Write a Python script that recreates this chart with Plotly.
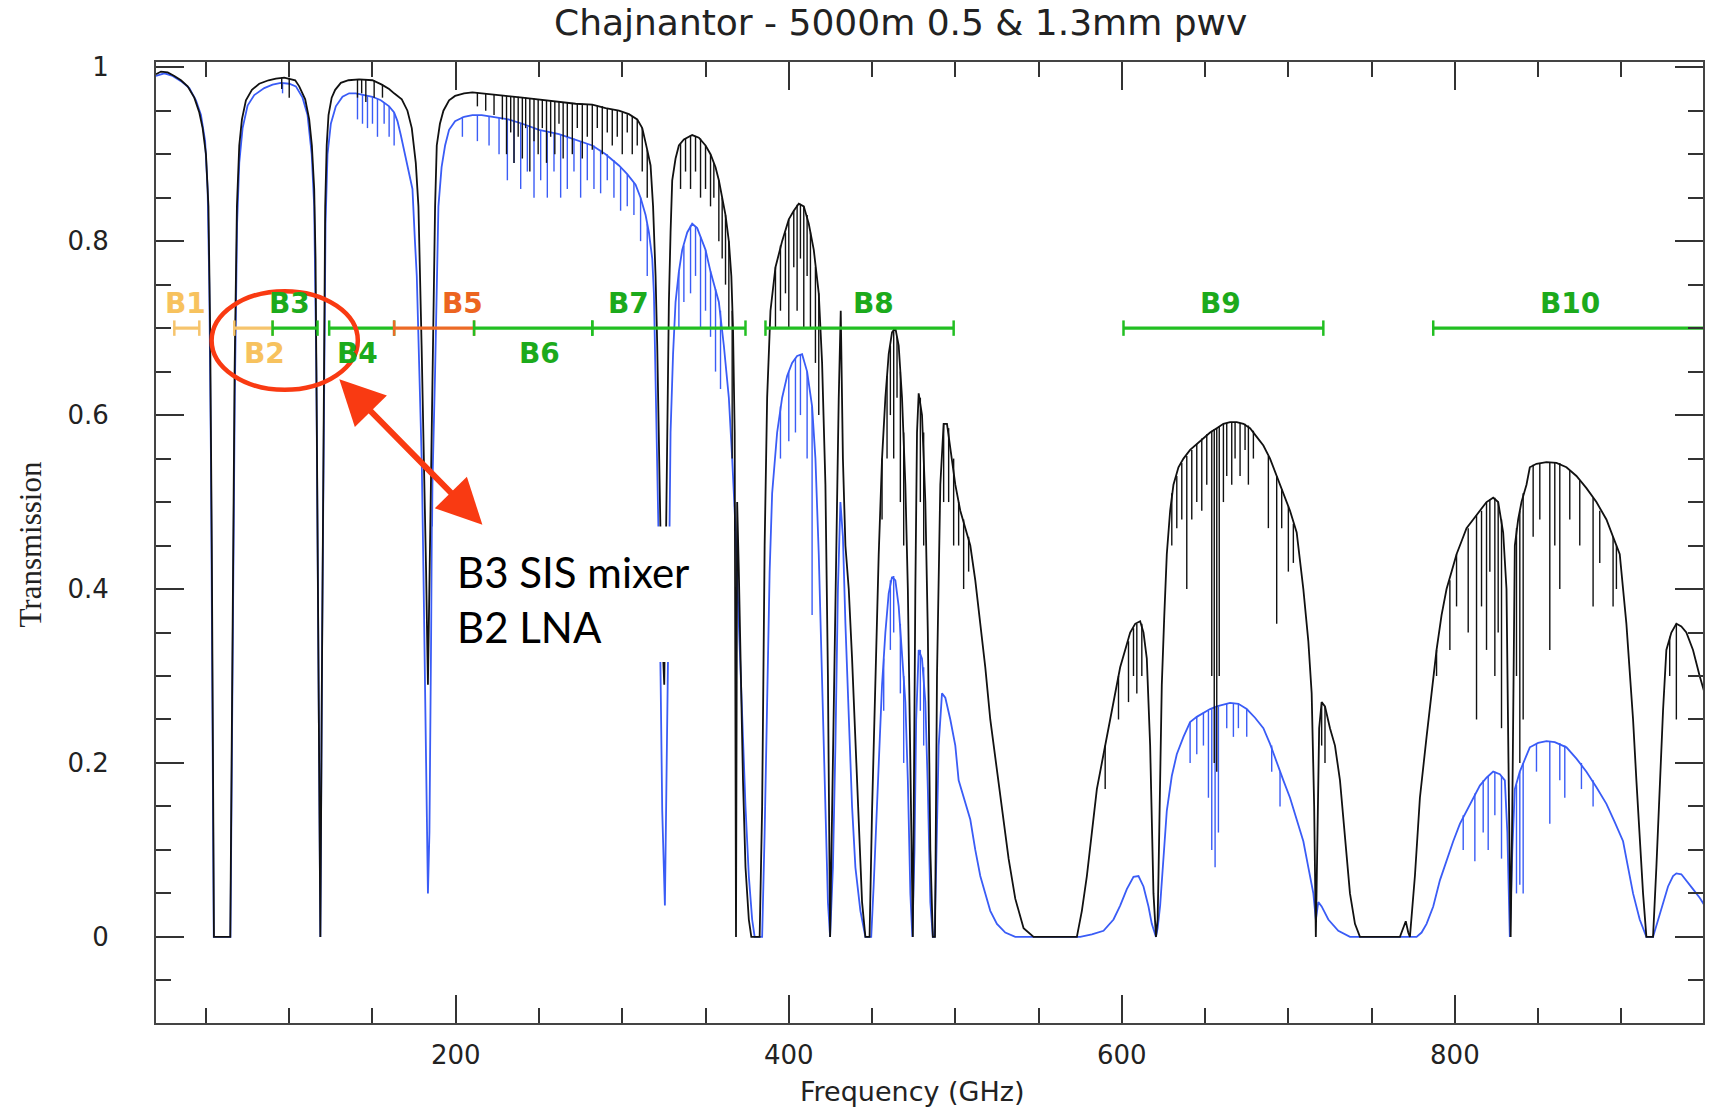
import plotly.graph_objects as go

# ---------------- data ----------------
# Transmission for 0.5 mm pwv (black curve): (frequency GHz, transmission)
pwv05_curve = [
    (20,0.992),(23,0.995),(27,0.994),(31,0.99),(35,0.985),(39,0.978),(43,0.965),(46,0.948),(48,0.93),(50,0.90),
    (51.5,0.84),(52.5,0.70),(53.5,0.45),(54.2,0.20),(54.8,0.0),(64.6,0.0),(65.2,0.15),(66,0.36),(67.2,0.65),(68.6,0.84),
    (70,0.91),(71.6,0.94),(74,0.962),(77.6,0.974),(82,0.981),(87.6,0.985),(92,0.987),(97,0.988),(103.6,0.985),(106,0.978),
    (109.6,0.963),(112,0.94),(113.6,0.91),(115,0.86),(115.8,0.78),(116.6,0.58),(117.6,0.29),(118.7,0.0),(119.6,0.29),(120.6,0.58),
    (121.6,0.84),(122.5,0.91),(123.6,0.945),(125.5,0.965),(127.6,0.974),(131,0.982),(135.6,0.985),(142,0.986),(150,0.985),(155.6,0.98),
    (160,0.975),(163,0.97),(167.6,0.963),(171,0.95),(173.6,0.93),(176,0.89),(177.6,0.84),(179.5,0.68),(180.6,0.58),(182.2,0.42),
    (183.3,0.29),(184.3,0.42),(185.2,0.56),(186.6,0.73),(187.6,0.84),(188.6,0.91),(190.5,0.935),(192.6,0.95),(196,0.962),(199.6,0.967),
    (205,0.97),(210,0.971),(216,0.97),(222,0.969),(230,0.967),(240,0.965),(250,0.963),(262,0.96),(272,0.958),(282,0.957),
    (290,0.953),(298,0.95),(304,0.946),(309,0.94),(312,0.93),(315,0.905),(317,0.887),(318.5,0.84),(320,0.76),(321,0.68),
    (322,0.58),(323,0.45),(324,0.35),(325.2,0.29),(326,0.42),(327,0.58),(328,0.73),(329,0.81),(330,0.87),(332,0.895),
    (334,0.91),(337,0.917),(342,0.922),(346,0.919),(350,0.91),(353,0.90),(356,0.885),(358,0.87),(360,0.85),(362,0.83),
    (364,0.80),(365.5,0.76),(366.5,0.70),(367.5,0.58),(368.3,0.0),(369,0.50),(370,0.42),(371,0.31),(372.5,0.18),(374,0.08),
    (376,0.02),(377.5,0.0),(382.5,0.0),(384,0.15),(385.5,0.45),(387,0.62),(389,0.72),(392,0.77),(396,0.80),(400,0.825),
    (403,0.835),(406,0.843),(409,0.84),(412,0.82),(415,0.79),(418,0.74),(420,0.66),(422,0.52),(423.5,0.30),(424.8,0.0),
    (426,0.15),(428,0.40),(430,0.62),(431.2,0.72),(432.5,0.55),(434,0.45),(436,0.40),(438,0.32),(440,0.22),(442,0.12),
    (444,0.04),(446,0.0),(448.5,0.0),(450,0.145),(452,0.30),(454,0.44),(456,0.55),(458,0.62),(460,0.67),(462,0.695),
    (464,0.70),(466,0.68),(468,0.62),(470,0.52),(471.5,0.40),(473,0.17),(474.5,0.0),(476,0.40),(477,0.58),(478,0.625),
    (480,0.60),(482,0.50),(483.5,0.35),(485,0.10),(486.5,0.0),(487.8,0.0),(489,0.30),(491,0.52),(493,0.59),(495,0.59),
    (497,0.56),(500,0.52),(503,0.49),(506,0.47),(509,0.45),(512,0.41),(515,0.36),(518,0.31),(521,0.25),(525,0.19),
    (528,0.145),(532,0.09),(536,0.044),(541,0.01),(547,0.0),(573,0.0),(576,0.03),(579,0.07),(582,0.12),(585,0.17),
    (589,0.21),(593,0.25),(596,0.28),(599,0.31),(602,0.33),(605,0.35),(608,0.36),(611,0.363),(613,0.35),(615,0.32),
    (617,0.22),(618,0.145),(619,0.05),(620.5,0.0),(621.5,0.02),(622,0.07),(623,0.18),(624,0.29),(625.5,0.37),(627,0.44),
    (629,0.49),(631,0.52),(634,0.54),(637,0.55),(641,0.56),(645,0.567),(649,0.573),(653,0.58),(657,0.585),(661,0.59),
    (665,0.592),(669,0.592),(673,0.59),(677,0.585),(681,0.575),(685,0.565),(689,0.55),(693,0.53),(697,0.51),(701,0.49),
    (705,0.465),(709,0.40),(712,0.34),(714,0.28),(715.5,0.15),(716.5,0.0),(717.5,0.12),(718.5,0.24),(720,0.27),(722,0.265),
    (725,0.24),(728,0.22),(731,0.18),(734,0.11),(737,0.05),(740,0.015),(743,0.0),(767,0.0),(769,0.01),(770.5,0.018),
    (772,0.005),(773,0.0),(776,0.07),(779,0.16),(783,0.23),(786,0.28),(789,0.33),(792,0.37),(795,0.40),(798,0.42),
    (801,0.44),(804,0.455),(807,0.47),(811,0.48),(815,0.49),(819,0.50),(823,0.505),(826,0.50),(829,0.465),(831,0.40),
    (832.5,0.15),(833.5,0.0),(834.5,0.15),(836,0.45),(838,0.48),(840,0.50),(843,0.52),(845,0.54),(849,0.544),(855,0.546),
    (861,0.545),(867,0.54),(873,0.53),(879,0.516),(885,0.50),(891,0.48),(895,0.46),(899,0.44),(903,0.36),(905,0.31),
    (907,0.25),(909,0.18),(911,0.11),(913,0.05),(915,0.0),(919,0.0),(921,0.08),(923,0.18),(925,0.26),(927,0.33),
    (930,0.35),(933,0.36),(936,0.357),(939,0.35),(943,0.33),(947,0.30),(950,0.28),
]

# narrow absorption lines of the 0.5 mm curve: (frequency, top, bottom)
pwv05_lines = [
    (95.5,0.988,0.975),(100,0.988,0.965),(141,0.986,0.965),(143.5,0.986,0.97),(146,0.986,0.96),(151,0.985,0.965),(156,0.98,0.965),
    (213,0.971,0.955),(218,0.97,0.95),(223,0.969,0.945),(228,0.968,0.94),(230.5,0.967,0.90),(233,0.967,0.925),(235,0.966,0.89),
    (237.5,0.966,0.92),(240,0.965,0.895),(242,0.965,0.93),(244.5,0.964,0.88),(247,0.964,0.915),(249.5,0.963,0.90),(252,0.963,0.93),
    (254.5,0.962,0.89),(257,0.962,0.92),(259.5,0.961,0.90),(262,0.961,0.935),(264.5,0.96,0.895),(267,0.96,0.92),(270,0.959,0.90),
    (273,0.958,0.93),(276,0.958,0.895),(279,0.957,0.92),(282,0.957,0.905),(285,0.956,0.93),(288,0.955,0.90),(291,0.953,0.925),
    (294,0.952,0.91),(297,0.95,0.92),(300,0.948,0.90),(303,0.946,0.925),(306,0.944,0.90),(309,0.94,0.91),(312,0.93,0.88),(315,0.905,0.85),
    (335,0.912,0.86),(338,0.918,0.88),(341,0.922,0.86),(344,0.921,0.88),(347,0.918,0.85),(350,0.91,0.86),(353,0.90,0.84),
    (355,0.89,0.85),(358,0.87,0.80),(360,0.85,0.78),(362,0.83,0.75),(364,0.80,0.70),(366,0.72,0.55),
    (392,0.77,0.70),(395,0.795,0.72),(398,0.81,0.74),(400,0.825,0.70),(403,0.835,0.77),(405,0.842,0.72),(407,0.843,0.78),
    (409,0.84,0.70),(411,0.83,0.76),(413,0.81,0.70),(416,0.77,0.66),(418,0.74,0.60),
    (456,0.55,0.48),(459,0.645,0.55),(461,0.68,0.60),(463,0.70,0.55),(465,0.69,0.62),(467,0.65,0.50),(469,0.58,0.45),
    (479,0.62,0.50),(481,0.58,0.45),(493,0.59,0.50),(496,0.585,0.50),(499,0.55,0.45),(502,0.50,0.45),(505,0.48,0.40),(508,0.46,0.42),
    (590,0.22,0.17),(598,0.30,0.25),(604,0.34,0.27),(607,0.355,0.30),(609,0.36,0.28),(612,0.36,0.30),
    (630,0.51,0.45),(633,0.53,0.47),(636,0.545,0.48),(639,0.553,0.40),(642,0.56,0.48),(645,0.567,0.50),(648,0.573,0.49),
    (651,0.578,0.52),(654,0.582,0.30),(655.5,0.584,0.20),(657,0.585,0.19),(658.5,0.587,0.30),(661,0.59,0.50),(663,0.591,0.53),
    (666,0.592,0.52),(668,0.592,0.55),(671,0.591,0.53),(674,0.59,0.56),(676,0.588,0.52),(679,0.582,0.55),(688,0.553,0.47),
    (693,0.53,0.36),(696,0.515,0.47),(700,0.495,0.42),(703,0.475,0.43),(720,0.27,0.22),(722,0.265,0.20),
    (789,0.33,0.30),(797,0.41,0.33),(801,0.44,0.38),(808,0.47,0.35),(813,0.485,0.25),(816,0.49,0.38),(819,0.50,0.33),
    (821,0.503,0.42),(824,0.505,0.30),(826,0.50,0.35),(828,0.48,0.24),(837,0.47,0.30),(839,0.49,0.20),(841,0.51,0.25),
    (847,0.543,0.46),(851,0.545,0.48),(857,0.546,0.33),(860,0.546,0.45),(863,0.545,0.40),(869,0.537,0.48),(875,0.525,0.45),
    (883,0.505,0.38),(887,0.49,0.43),(895,0.46,0.38),(897,0.45,0.40),(929,0.345,0.30),(933,0.36,0.25),
]

# Transmission for 1.3 mm pwv (blue curve)
pwv13_curve = [
    (20,0.99),(25,0.993),(30,0.99),(35,0.984),(40,0.976),(44,0.962),(47,0.945),(49.5,0.915),(51,0.86),(52,0.75),
    (53,0.55),(54,0.25),(54.7,0.0),(64.7,0.0),(65.3,0.12),(66.2,0.36),(67.3,0.62),(68.7,0.82),(70,0.89),(72,0.93),
    (75,0.956),(79,0.968),(85,0.976),(90,0.98),(95,0.982),(100,0.981),(104,0.978),(108,0.965),(111,0.945),(113.5,0.90),
    (115,0.84),(116.3,0.65),(117.3,0.38),(118.7,0.0),(119.8,0.35),(120.8,0.62),(121.8,0.82),(123,0.90),(125,0.935),(128,0.955),
    (132,0.966),(136,0.97),(140,0.97),(145,0.968),(150,0.966),(155,0.962),(160,0.955),(163,0.948),(165,0.938),(167,0.922),
    (170,0.897),(172,0.877),(174,0.86),(175.5,0.80),(176.6,0.76),(178,0.66),(179.6,0.545),(180.6,0.42),(181.6,0.29),(182.5,0.12),
    (183.3,0.05),(184.2,0.12),(185,0.35),(186,0.52),(187.6,0.65),(188.6,0.76),(189.6,0.84),(191.5,0.885),(193.6,0.91),(196,0.928),
    (199.6,0.938),(205,0.943),(210,0.945),(215.6,0.945),(222,0.943),(231.6,0.94),(240,0.935),(250,0.928),(262,0.923),(270,0.918),
    (282,0.91),(290,0.90),(298,0.887),(303,0.877),(308,0.865),(311,0.85),(314,0.83),(316,0.81),(318,0.78),(319,0.74),
    (320,0.65),(321,0.55),(322,0.44),(323,0.30),(324,0.145),(325.6,0.036),(327,0.22),(328,0.40),(329,0.58),(330.5,0.67),
    (332,0.73),(334,0.765),(336,0.79),(339,0.81),(342,0.82),(345,0.815),(348,0.80),(350,0.79),(353,0.765),(356,0.745),
    (358,0.73),(361,0.68),(364,0.62),(366,0.55),(368,0.47),(370,0.36),(372,0.25),(374,0.15),(376,0.07),(378,0.02),
    (379.5,0.0),(384,0.0),(385.5,0.12),(387,0.29),(388.5,0.42),(390,0.51),(393,0.58),(396,0.62),(399,0.645),(402,0.66),
    (405,0.668),(408,0.67),(411,0.65),(414,0.61),(416,0.55),(418,0.44),(420,0.30),(422,0.145),(423.5,0.04),(424.8,0.0),
    (426.5,0.08),(428,0.22),(429.5,0.40),(431,0.50),(432.5,0.46),(434,0.36),(436,0.25),(438,0.15),(440,0.08),(443,0.03),
    (446,0.0),(449.5,0.0),(451,0.06),(452.5,0.13),(454,0.21),(456,0.29),(458,0.35),(460,0.395),(462,0.414),(464,0.41),
    (466,0.38),(468,0.33),(470,0.27),(471.5,0.18),(473,0.05),(474.2,0.0),(475.5,0.10),(476.5,0.25),(478,0.33),(480,0.32),
    (482,0.27),(483.5,0.17),(485,0.04),(486.5,0.0),(487.5,0.0),(488.5,0.08),(490,0.22),(492,0.28),(494,0.275),(497,0.25),
    (500,0.22),(502,0.18),(506,0.155),(509,0.135),(512,0.10),(515,0.07),(518,0.05),(521,0.03),(525,0.015),(530,0.005),
    (536,0.0),(575,0.0),(582,0.003),(589,0.007),(595,0.02),(599,0.036),(603,0.055),(607,0.069),(610,0.07),(613,0.058),
    (616,0.035),(618,0.015),(620.5,0.0),(621.5,0.01),(623,0.036),(625,0.09),(627,0.145),(630,0.185),(633,0.21),(637,0.23),
    (641,0.247),(645,0.253),(649,0.258),(653,0.262),(657,0.265),(661,0.267),(665,0.269),(670,0.268),(675,0.262),(680,0.252),
    (685,0.24),(689,0.222),(693,0.20),(697,0.18),(701,0.16),(705,0.135),(709,0.11),(712,0.08),(715,0.05),(716.5,0.02),
    (718,0.04),(720,0.035),(724,0.02),(730,0.007),(737,0.0),(777,0.0),(780,0.005),(783,0.015),(787,0.035),(791,0.065),
    (795,0.088),(799,0.11),(803,0.13),(807,0.145),(811,0.16),(815,0.174),(819,0.183),(823,0.19),(827,0.187),(830,0.18),
    (831.5,0.12),(833,0.0),(834.5,0.10),(836,0.17),(839,0.19),(842,0.205),(845,0.218),(850,0.223),(855,0.225),(860,0.224),
    (867,0.218),(873,0.205),(879,0.19),(885,0.172),(891,0.153),(896,0.132),(901,0.11),(904,0.08),(907,0.05),(911,0.02),
    (915,0.0),(919,0.0),(922,0.02),(925,0.04),(928,0.058),(931,0.07),(933,0.073),(936,0.072),(940,0.063),(943,0.055),
    (947,0.045),(950,0.036),
]

pwv13_lines = [
    (96,0.982,0.97),(141,0.97,0.94),(144,0.969,0.935),(147,0.967,0.93),(150,0.966,0.935),(153,0.964,0.92),(157,0.96,0.935),
    (160,0.955,0.92),(163,0.948,0.91),
    (204,0.943,0.92),(213,0.945,0.915),(220,0.943,0.91),(226,0.942,0.90),(231,0.94,0.87),(235,0.938,0.89),(239,0.936,0.86),
    (243,0.932,0.88),(247,0.929,0.85),(251,0.927,0.87),(255,0.925,0.85),(259,0.924,0.88),(263,0.923,0.85),(267,0.921,0.86),
    (271,0.918,0.88),(275,0.915,0.85),(279,0.912,0.87),(283,0.91,0.86),(287,0.905,0.855),(291,0.90,0.87),(295,0.893,0.85),
    (299,0.885,0.835),(303,0.877,0.84),(307,0.867,0.83),(311,0.85,0.80),(315,0.82,0.76),
    (334,0.765,0.70),(337,0.795,0.73),(341,0.818,0.74),(344,0.817,0.76),(347,0.805,0.70),(350,0.79,0.72),(353,0.765,0.69),
    (356,0.745,0.65),(359,0.72,0.63),
    (395,0.61,0.55),(400,0.65,0.57),(404,0.665,0.58),(407,0.67,0.60),(411,0.65,0.55),(414,0.61,0.37),
    (457,0.32,0.26),(461,0.41,0.33),(463,0.415,0.35),(467,0.36,0.28),(469,0.30,0.20),(479,0.33,0.26),(481,0.31,0.22),
    (641,0.247,0.20),(645,0.253,0.21),(649,0.258,0.22),(652,0.26,0.16),(654,0.262,0.10),(656,0.264,0.08),(658,0.265,0.12),
    (663,0.268,0.24),(667,0.269,0.23),(670,0.268,0.24),(675,0.262,0.23),(690,0.22,0.19),(695,0.19,0.15),
    (805,0.14,0.10),(812,0.165,0.087),(817,0.18,0.12),(820,0.185,0.10),(824,0.19,0.14),(828,0.185,0.09),(837,0.175,0.05),
    (839,0.19,0.06),(841,0.20,0.05),(849,0.222,0.19),(857,0.225,0.13),(863,0.223,0.18),(866,0.22,0.16),(876,0.20,0.17),
    (883,0.18,0.15),
]

# ALMA receiver bands
band_names = ["B1", "B2", "B3", "B4", "B5", "B6", "B7", "B8", "B9", "B10"]
band_lo = [31, 67, 90, 124, 163, 211, 282, 386, 601, 787]
band_hi = [46, 90, 117, 163, 211, 282, 374, 499, 721, 950]
band_label_x = [38, 85, 100, 141, 204, 250, 304, 451, 659, 869]
band_label_side = ["above", "below", "above", "below", "above", "below", "above", "above", "above", "above"]
band_kind = ["old", "old", "std", "std", "new", "std", "std", "std", "std", "std"]
band_level = 0.70

x_tick_values = [200, 400, 600, 800]
y_tick_values = [0, 0.2, 0.4, 0.6, 0.8, 1]
y_tick_labels = ["0", "0.2", "0.4", "0.6", "0.8", "1"]

title_text = "Chajnantor - 5000m 0.5 &amp; 1.3mm pwv"
note_text = "B3 SIS mixer<br>B2 LNA"

# ---------------- styling ----------------
BLACK = "#111111"
BLUE = "#3a5cf6"
line_colors = {"old": "#f6c46c", "std": "#22bf22", "new": "#ec6a26"}
text_colors = {"old": "#f7c25e", "std": "#1caa1c", "new": "#ec6420"}
RED = "#f93a12"
FONT = "DejaVu Sans"


def spikes(lines):
    xs, ys = [], []
    for f, top, bot in lines:
        xs += [f, f, None]
        ys += [top, bot, None]
    return xs, ys


fig = go.Figure()

bx, by = zip(*pwv13_curve)
fig.add_trace(go.Scatter(x=bx, y=by, mode="lines", line=dict(color=BLUE, width=1.8),
                         showlegend=False, hoverinfo="skip"))
sx, sy = spikes(pwv13_lines)
fig.add_trace(go.Scatter(x=sx, y=sy, mode="lines", line=dict(color=BLUE, width=1.4),
                         showlegend=False, hoverinfo="skip", connectgaps=False))

kx, ky = zip(*pwv05_curve)
fig.add_trace(go.Scatter(x=kx, y=ky, mode="lines", line=dict(color=BLACK, width=1.8),
                         showlegend=False, hoverinfo="skip"))
sx, sy = spikes(pwv05_lines)
fig.add_trace(go.Scatter(x=sx, y=sy, mode="lines", line=dict(color=BLACK, width=1.4),
                         showlegend=False, hoverinfo="skip", connectgaps=False))

# band bars
for name, lo, hi, lx, side, kind in zip(band_names, band_lo, band_hi, band_label_x,
                                         band_label_side, band_kind):
    c = line_colors[kind]
    fig.add_trace(go.Scatter(
        x=[lo, hi], y=[band_level, band_level], mode="lines+markers",
        line=dict(color=c, width=3.2),
        marker=dict(symbol="line-ns", size=11, color=c, line=dict(width=2.5, color=c)),
        showlegend=False, hoverinfo="skip", cliponaxis=False))
    fig.add_annotation(x=lx, y=band_level + (0.028 if side == "above" else -0.029),
                       xref="x", yref="y", text="<b>%s</b>" % name, showarrow=False,
                       font=dict(family=FONT, size=28, color=text_colors[kind]),
                       xanchor="center", yanchor="middle")

# white text box, ellipse
fig.add_shape(type="rect", xref="x", yref="y", x0=186.2, x1=331.4, y0=0.316, y1=0.472,
              fillcolor="white", line=dict(width=0), layer="above")
fig.add_shape(type="circle", xref="x", yref="y", x0=53.4, x1=141.2, y0=0.629, y1=0.7425,
              line=dict(color=RED, width=4.5), layer="above")

fig.add_annotation(x=199.4, y=0.3875, xref="x", yref="y", text=note_text, showarrow=False,
                   xanchor="left", yanchor="middle", align="left",
                   font=dict(family="Lato", size=42, color="black"))

# double-headed arrow
fig.add_annotation(x=216, y=0.474, xref="x", yref="y", ax=129.2, ay=0.643, axref="x", ayref="y",
                   text="", showarrow=True, arrowside="end+start", arrowhead=2, startarrowhead=2,
                   arrowsize=1.5, startarrowsize=1.5, arrowwidth=6, arrowcolor=RED)

# titles
fig.add_annotation(x=0.481, y=1.041, xref="paper", yref="paper", text=title_text, showarrow=False,
                   font=dict(family=FONT, size=36, color="#222"), xanchor="center", yanchor="middle")
fig.add_annotation(x=0.489, y=-0.0718, xref="paper", yref="paper", text="Frequency (GHz)", showarrow=False,
                   font=dict(family=FONT, size=27, color="#222"), xanchor="center", yanchor="middle")
fig.add_annotation(x=-0.0814, y=0.498, xref="paper", yref="paper", text="Transmission", showarrow=False,
                   textangle=-90, font=dict(family="Liberation Serif", size=31, color="#222"),
                   xanchor="center", yanchor="middle")

axis_common = dict(showline=True, linecolor="#444", linewidth=2, mirror="ticks", ticks="inside",
                   tickcolor="#333", tickwidth=2, ticklen=28, showgrid=False, zeroline=False,
                   tickfont=dict(family=FONT, size=26, color="#222"))

fig.update_xaxes(range=[20, 949], tickmode="array", tickvals=x_tick_values,
                 ticklabelstandoff=8,
                 minor=dict(dtick=50, tick0=0, ticks="inside", ticklen=15, tickwidth=2, tickcolor="#333",
                            showgrid=False),
                 **axis_common)
fig.update_yaxes(range=[-0.099, 1.006], tickmode="array", tickvals=y_tick_values, ticktext=y_tick_labels,
                 ticklabelstandoff=40,
                 minor=dict(dtick=0.05, tick0=0, ticks="inside", ticklen=15, tickwidth=2, tickcolor="#333",
                            showgrid=False),
                 **axis_common)

fig.update_layout(width=1715, height=1109, margin=dict(l=156, r=10, t=62, b=86),
                  paper_bgcolor="white", plot_bgcolor="white", showlegend=False)

fig.write_html("out.html")
